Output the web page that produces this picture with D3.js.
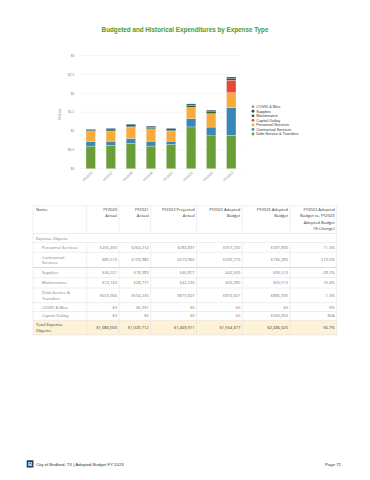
<!DOCTYPE html>
<meta charset="utf-8">
<head>
  <title>Budgeted and Historical Expenditures by Expense Type</title>
  <script src="https://cdn.jsdelivr.net/npm/d3@7"></script>
  <style>
    body { margin: 0; background: #fff; }
    svg { display: block; }
  </style>
</head>
<body>
<div id="page"></div>
<script>
  // chart data (millions)
  const years = ["FY2016", "FY2017", "FY2018", "FY2019", "FY2020", "FY2021", "FY2022", "FY2023"];
  const debtService = [0.60, 0.62, 0.67, 0.60, 0.645, 1.11, 0.874, 0.885];
  const contractual = [0.125, 0.11, 0.13, 0.13, 0.085, 0.22, 0.231, 0.736];
  const personnel = [0.265, 0.27, 0.30, 0.33, 0.27, 0.30, 0.357, 0.398];
  const capitalOutlay = [0, 0, 0, 0, 0, 0, 0, 0.33];
  const maintenance = [0.02, 0.03, 0.03, 0.035, 0.025, 0.05, 0.050, 0.0555];
  const supplies = [0.035, 0.04, 0.05, 0.035, 0.045, 0.04, 0.0425, 0.0305];
  const covidMisc = [0, 0, 0, 0, 0, 0.006, 0, 0];
  const yTicks = [0, 0.5, 1, 1.5, 2, 2.5, 3];

  // table data
  const colHeads = [["Name"], ["FY2020", "Actual"], ["FY2021", "Actual"], ["FY2022 Projected", "Actual"],
    ["FY2022 Adopted", "Budget"], ["FY2023 Adopted", "Budget"], ["FY2022 Adopted", "Budget vs. FY2023", "Adopted Budget", "(% Change)"]];
  const rowNames = [["Personnel Services"], ["Contractual", "Services"], ["Supplies"], ["Maintenance"],
    ["Debt Service &", "Transfers"], ["COVID & Misc"], ["Capital Outlay"]];
  const fy2020Actual = ["$205,493", "$80,510", "$34,221", "$14,743", "$653,066", "$0", "$0"];
  const fy2021Actual = ["$264,214", "$109,980", "$18,389", "$28,777", "$594,230", "$6,391", "$0"];
  const fy2022Projected = ["$283,897", "$219,960", "$40,877", "$42,220", "$873,607", "$0", "$0"];
  const fy2022Adopted = ["$357,230", "$230,770", "$42,500", "$50,280", "$873,607", "$0", "$0"];
  const fy2023Adopted = ["$397,890", "$736,280", "$30,510", "$55,510", "$885,395", "$0", "$330,000"];
  const pctChange = ["11.3%", "219.0%", "-28.2%", "10.4%", "1.3%", "0%", "N/A"];
  const totals = ["$1,080,033", "$1,020,712", "$1,469,911", "$1,554,377", "$2,436,025", "56.7%"];

  const series = [
    {name: "Debt Service & Transfers", values: debtService, color: "#6a9e39"},
    {name: "Contractual Services", values: contractual, color: "#3b86b6"},
    {name: "Personnel Services", values: personnel, color: "#f6ab3c"},
    {name: "Capital Outlay", values: capitalOutlay, color: "#ea4736"},
    {name: "Maintenance", values: maintenance, color: "#2f5d2b"},
    {name: "Supplies", values: supplies, color: "#2c4a66"},
    {name: "COVID & Misc", values: covidMisc, color: "#e6893a"}
  ];

  const width = 370, height = 480;
  const svg = d3.select("#page").append("svg")
    .attr("width", width).attr("height", height);

  // title
  svg.append("text")
    .attr("x", 185).attr("y", 32)
    .attr("text-anchor", "middle")
    .attr("font-family", "Liberation Sans, Arial, sans-serif")
    .attr("font-weight", "bold")
    .attr("font-size", 6.3)
    .attr("fill", "#4f9a2c")
    .text("Budgeted and Historical Expenditures by Expense Type");

  const x = d3.scaleBand().domain(years).range([80, 242]).paddingInner(0.53).paddingOuter(0.3);
  const y = d3.scaleLinear().domain([0, 3]).range([168.7, 55.7]);

  // gridlines + y labels
  const grid = svg.append("g");
  grid.selectAll("line").data(yTicks).enter().append("line")
    .attr("x1", 80).attr("x2", 242)
    .attr("y1", d => y(d)).attr("y2", d => y(d))
    .attr("stroke", "#ececec").attr("stroke-width", 0.5);
  grid.selectAll("text").data(yTicks).enter().append("text")
    .attr("x", 74.5).attr("y", d => y(d) + 1.2)
    .attr("text-anchor", "end")
    .attr("font-family", "Liberation Sans, Arial, sans-serif")
    .attr("font-size", 3.4).attr("fill", "#888")
    .text(d => "$" + d);

  svg.append("text")
    .attr("transform", "translate(60.5,114) rotate(-90)")
    .attr("text-anchor", "middle")
    .attr("font-family", "Liberation Sans, Arial, sans-serif")
    .attr("font-size", 3.4).attr("fill", "#888")
    .text("Millions");

  // stacked bars
  const rows = years.map((yr, i) => {
    const r = {year: yr};
    series.forEach(s => r[s.name] = s.values[i]);
    return r;
  });
  const stack = d3.stack().keys(series.map(s => s.name))(rows);
  svg.append("g").selectAll("g").data(stack).enter().append("g")
    .attr("fill", (d, i) => series[i].color)
    .selectAll("rect").data(d => d).enter().append("rect")
    .attr("x", d => x(d.data.year))
    .attr("width", x.bandwidth())
    .attr("y", d => y(d[1]))
    .attr("height", d => y(d[0]) - y(d[1]))
    .attr("stroke", "#fff").attr("stroke-width", 0.4).attr("stroke-opacity", 0.6);

  // x labels
  svg.append("g").selectAll("text").data(years).enter().append("text")
    .attr("transform", d => `translate(${x(d) + x.bandwidth() / 2 + 2},173) rotate(-45)`)
    .attr("text-anchor", "end")
    .attr("font-family", "Liberation Sans, Arial, sans-serif")
    .attr("font-size", 3.4).attr("fill", "#777")
    .text(d => d);

  // legend
  const legend = svg.append("g").selectAll("g").data(series.slice().reverse()).enter().append("g")
    .attr("transform", (d, i) => `translate(253,${106.7 + i * 4.55})`);
  legend.append("circle").attr("r", 1.4).attr("fill", d => d.color);
  legend.append("text")
    .attr("x", 3.2).attr("y", 1.3)
    .attr("font-family", "Liberation Sans, Arial, sans-serif")
    .attr("font-size", 3.8).attr("fill", "#333")
    .text(d => d.name);

  // table
  const colX = [33, 86.7, 119, 150.7, 196.7, 242.3, 290, 336.7];
  const tf = "Open Sans, sans-serif";
  const tbl = svg.append("g");
  const lineH = 6.3;

  // row bands: [top, bottom]
  const headTop = 206, headBot = 233.5;
  const bodyRows = [[242.5, 252.3], [252.3, 267.5], [267.5, 277.7], [277.7, 288],
    [288, 302.7], [302.7, 311.5], [311.5, 320.3]];
  const totalRow = [320.3, 335];

  tbl.append("rect").attr("x", colX[0]).attr("y", totalRow[0])
    .attr("width", colX[7] - colX[0]).attr("height", totalRow[1] - totalRow[0])
    .attr("fill", "#fdf2d8");

  // horizontal lines
  const hLines = [headTop, headBot, 242.5].concat(bodyRows.map(r => r[1]), [totalRow[1]]);
  tbl.selectAll("line.h").data(hLines).enter().append("line")
    .attr("x1", colX[0]).attr("x2", colX[7])
    .attr("y1", d => d).attr("y2", d => d)
    .attr("stroke", (d, i) => d === 267.5 ? "#d8d8d8" : "#dcdcdc")
    .attr("stroke-width", d => d === 267.5 ? 1.2 : 0.5);

  // vertical lines (header, body and total rows; not through section row)
  const vSegs = [];
  colX.forEach((cx, i) => {
    vSegs.push([cx, headTop, headBot]);
    if (i === 0 || i === 7) vSegs.push([cx, headBot, totalRow[1]]);
    else vSegs.push([cx, 242.5, totalRow[1]]);
  });
  tbl.selectAll("line.v").data(vSegs).enter().append("line")
    .attr("x1", d => d[0]).attr("x2", d => d[0])
    .attr("y1", d => d[1]).attr("y2", d => d[2])
    .attr("stroke", "#dcdcdc").attr("stroke-width", 0.5);

  // header text
  colHeads.forEach((lines, c) => {
    const t = tbl.append("text")
      .attr("font-family", tf).attr("font-size", 4.1).attr("fill", "#333")
      .attr("text-anchor", c === 0 ? "start" : "end");
    lines.forEach((ln, k) => {
      t.append("tspan")
        .attr("x", c === 0 ? colX[0] + 3 : colX[c + 1] - 2)
        .attr("y", headTop + 5 + k * lineH)
        .text(ln);
    });
  });

  tbl.append("text")
    .attr("x", colX[0] + 3).attr("y", 239.5)
    .attr("font-family", tf).attr("font-size", 4.1).attr("fill", "#777")
    .text("Expense Objects");

  const valueCols = [fy2020Actual, fy2021Actual, fy2022Projected, fy2022Adopted, fy2023Adopted, pctChange];
  bodyRows.forEach((band, r) => {
    const mid = (band[0] + band[1]) / 2;
    const nm = rowNames[r];
    const t = tbl.append("text")
      .attr("font-family", tf).attr("font-size", 4.1).attr("fill", "#777");
    nm.forEach((ln, k) => {
      t.append("tspan")
        .attr("x", colX[0] + 9)
        .attr("y", mid + 1.4 + (k - (nm.length - 1) / 2) * 5.6)
        .text(ln);
    });
    valueCols.forEach((col, c) => {
      tbl.append("text")
        .attr("x", colX[c + 2] - 2).attr("y", mid + 1.4)
        .attr("text-anchor", "end")
        .attr("font-family", tf).attr("font-size", 4.1).attr("fill", "#777")
        .text(col[r]);
    });
  });

  const tmid = (totalRow[0] + totalRow[1]) / 2;
  const tt = tbl.append("text")
    .attr("font-family", tf).attr("font-size", 4.1).attr("fill", "#333");
  ["Total Expense", "Objects:"].forEach((ln, k) => {
    tt.append("tspan").attr("x", colX[0] + 3).attr("y", tmid + 1.4 + (k - 0.5) * 5.6).text(ln);
  });
  totals.forEach((v, c) => {
    tbl.append("text")
      .attr("x", colX[c + 2] - 2).attr("y", tmid + 1.4)
      .attr("text-anchor", "end")
      .attr("font-family", tf).attr("font-size", 4.1).attr("fill", "#333")
      .text(v);
  });

  // footer
  svg.append("rect").attr("x", 26.7).attr("y", 460.3).attr("width", 6.8).attr("height", 7.2).attr("fill", "#1c3b5e");
  svg.append("text").attr("x", 30.1).attr("y", 466.2).attr("text-anchor", "middle")
    .attr("font-family", "Liberation Sans, Arial, sans-serif").attr("font-weight", "bold")
    .attr("font-size", 6).attr("fill", "#fff").text("B");
  svg.append("text").attr("x", 36).attr("y", 465.6)
    .attr("font-family", "Liberation Sans, Arial, sans-serif")
    .attr("font-size", 4.3).attr("fill", "#333")
    .text("City of Bedford, TX | Adopted Budget FY 2023");
  svg.append("text").attr("x", 341).attr("y", 465.6).attr("text-anchor", "end")
    .attr("font-family", "Liberation Sans, Arial, sans-serif")
    .attr("font-size", 4.3).attr("fill", "#333")
    .text("Page 72");
</script>
</body>
</html>
